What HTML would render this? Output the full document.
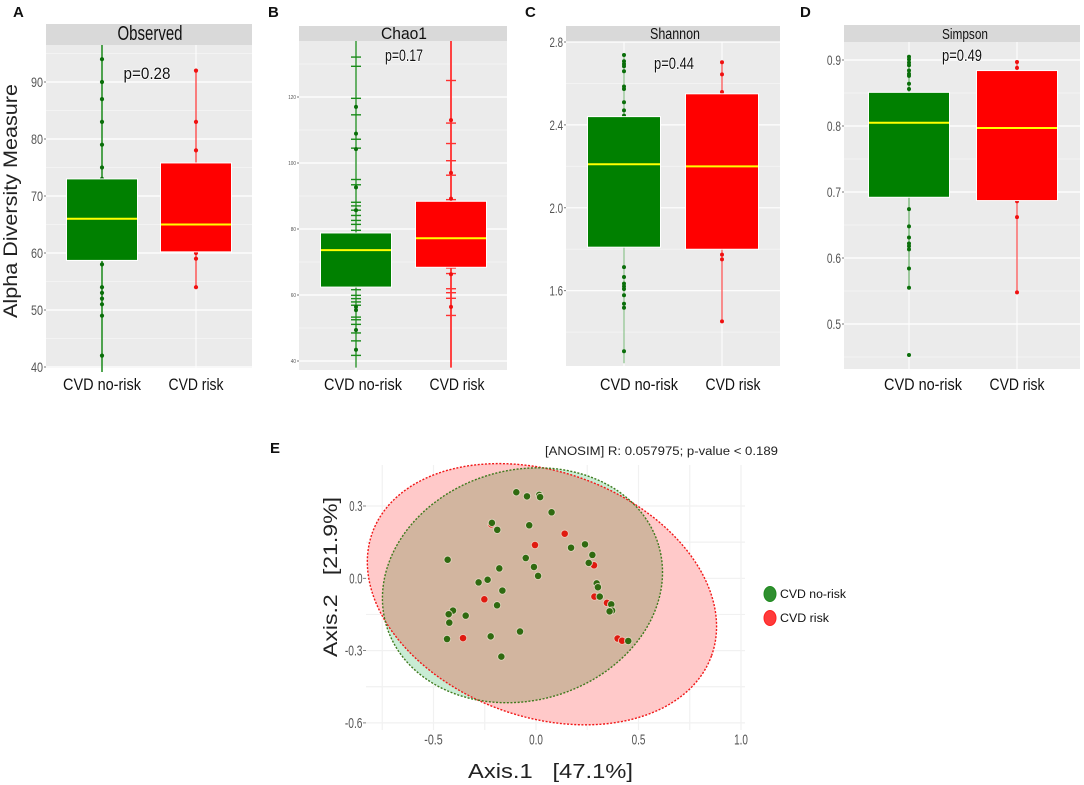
<!DOCTYPE html>
<html lang="en">
<head>
<meta charset="utf-8">
<title>Alpha and beta diversity</title>
<style>
html,body{margin:0;padding:0;background:#fff;width:1084px;height:785px;overflow:hidden}
svg{display:block;font-family:"Liberation Sans",sans-serif;filter:blur(0.35px)}
</style>
</head>
<body>
<svg id="figure" width="1084" height="785" viewBox="0 0 1084 785" xmlns="http://www.w3.org/2000/svg">
  <rect width="1084" height="785" fill="#fff"/>
  <g font-weight="bold" font-size="15" fill="#111">
    <text x="13" y="17">A</text>
    <text x="268" y="17">B</text>
    <text x="525" y="17">C</text>
    <text x="800" y="17">D</text>
    <text x="270" y="453">E</text>
  </g>
  <text transform="translate(17,201) rotate(-90)" text-anchor="middle" font-size="19" fill="#222" textLength="234" lengthAdjust="spacingAndGlyphs">Alpha Diversity Measure</text>
  <g id="panels"></g>
  <g id="ordination"></g>
  <text x="545" y="455" font-size="11.5" fill="#222" textLength="233" lengthAdjust="spacingAndGlyphs">[ANOSIM] R: 0.057975; p-value &lt; 0.189</text>
  <text x="468" y="778" font-size="20" fill="#222" textLength="165" lengthAdjust="spacingAndGlyphs" xml:space="preserve">Axis.1   [47.1%]</text>
  <text transform="translate(337,577) rotate(-90)" text-anchor="middle" font-size="19" fill="#222" textLength="160" lengthAdjust="spacingAndGlyphs" xml:space="preserve">Axis.2   [21.9%]</text>
  <g>
    <g>
      <ellipse cx="770" cy="594" rx="6" ry="7.5" fill="#2f8f2f" stroke="#1f8a1f" stroke-width="1"/>
      <text x="780" y="598" font-size="11.5" fill="#111" textLength="66" lengthAdjust="spacingAndGlyphs">CVD no-risk</text>
    </g>
    <g>
      <ellipse cx="770" cy="618" rx="6" ry="7.5" fill="#ff3b3b" stroke="#ff2020" stroke-width="1"/>
      <text x="780" y="622" font-size="11.5" fill="#111" textLength="49" lengthAdjust="spacingAndGlyphs">CVD risk</text>
    </g>
  </g>
</svg>
<script>
// ---- Panel A: Observed ----
const categories = ['CVD no-risk', 'CVD risk'];
const observedTicks = [40, 50, 60, 70, 80, 90];
const observedTickLabels = ['40', '50', '60', '70', '80', '90'];
const observedBoxNoRisk = [58.7, 66, 73];
const observedBoxRisk = [60.2, 65, 75.8];
const observedWhiskerNoRisk = [38, 100];
const observedWhiskerRisk = [54, 92];
const observedPointsNoRisk = [94, 90, 87, 83, 79, 75, 73, 58, 54, 53, 52, 51, 49, 42];
const observedPointsRisk = [92, 83, 78, 60, 59, 54];

// ---- Panel B: Chao1 ----
const chaoTicks = [40, 60, 80, 100, 120];
const chaoTickLabels = ['40', '60', '80', '100', '120'];
const chaoBoxNoRisk = [62.4, 73.6, 78.8];
const chaoBoxRisk = [68.4, 77.2, 88.4];
const chaoWhiskerNoRisk = [38, 140];
const chaoWhiskerRisk = [38, 140];
const chaoPointsNoRisk = [117, 108.9, 104.2, 92.6, 85.7, 56.4, 55.4, 49.4, 43.4];
const chaoPointsRisk = [113, 97, 89.2, 66.3, 56.4];
const chaoDashesNoRisk = [132.1, 129.3, 119.6, 114.6, 107.2, 104.5, 95, 93.4, 88.1, 87, 85.7, 84.1, 82.6, 81.4, 79.6, 61.6, 59.9, 58.9, 57.9, 56.9, 53.3, 52.5, 51.1, 48.5, 46.1, 41.7];
const chaoDashesRisk = [125, 112.1, 105.9, 100.7, 96.3, 88.9, 68.2, 66.5, 61.9, 60.7, 59, 53.8];

// ---- Panel C: Shannon ----
const shannonTicks = [1.6, 2.0, 2.4, 2.8];
const shannonTickLabels = ['1.6', '2.0', '2.4', '2.8'];
const shannonBoxNoRisk = [1.81, 2.21, 2.44];
const shannonBoxRisk = [1.80, 2.20, 2.55];
const shannonWhiskerNoRisk = [1.25, 2.74];
const shannonWhiskerRisk = [1.452, 2.702];
const shannonPointsNoRisk = [2.737, 2.707, 2.694, 2.683, 2.659, 2.585, 2.573, 2.509, 2.47, 2.445, 1.714, 1.666, 1.634, 1.621, 1.608, 1.578, 1.537, 1.518, 1.308];
const shannonPointsRisk = [2.702, 2.644, 2.559, 1.774, 1.751, 1.452];

// ---- Panel D: Simpson ----
const simpsonTicks = [0.5, 0.6, 0.7, 0.8, 0.9];
const simpsonTickLabels = ['0.5', '0.6', '0.7', '0.8', '0.9'];
const simpsonBoxNoRisk = [0.692, 0.805, 0.851];
const simpsonBoxRisk = [0.687, 0.797, 0.884];
const simpsonWhiskerNoRisk = [0.555, 0.905];
const simpsonWhiskerRisk = [0.548, 0.897];
const simpsonPointsNoRisk = [0.905, 0.901, 0.896, 0.892, 0.884, 0.879, 0.876, 0.864, 0.856, 0.674, 0.648, 0.631, 0.622, 0.618, 0.613, 0.584, 0.555, 0.453];
const simpsonPointsRisk = [0.897, 0.888, 0.686, 0.662, 0.548];

// ---- Panel E: ordination ----
const pcoaTicksX = [-0.5, 0, 0.5, 1];
const pcoaTickLabelsX = ['-0.5', '0.0', '0.5', '1.0'];
const pcoaTicksY = [-0.6, -0.3, 0, 0.3];
const pcoaTickLabelsY = ['-0.6', '-0.3', '0.0', '0.3'];
const noRiskAxis1 = [-0.096, -0.044, 0.016, 0.02, 0.076, -0.215, -0.189, -0.033, 0.239, 0.171, 0.275, 0.257, -0.431, -0.179, -0.05, -0.01, 0.01, -0.236, -0.28, -0.164, 0.296, 0.302, 0.311, 0.367, 0.371, 0.359, -0.19, -0.405, -0.426, -0.343, -0.423, -0.078, -0.434, -0.221, -0.169, 0.45];
const noRiskAxis2 = [0.357, 0.34, 0.346, 0.337, 0.274, 0.23, 0.201, 0.22, 0.141, 0.127, 0.097, 0.064, 0.077, 0.041, 0.084, 0.047, 0.01, -0.006, -0.017, -0.051, -0.021, -0.037, -0.076, -0.108, -0.134, -0.137, -0.112, -0.134, -0.149, -0.155, -0.184, -0.221, -0.252, -0.241, -0.325, -0.26];
const riskAxis1 = [-0.218, 0.14, -0.005, 0.283, -0.252, 0.285, 0.346, -0.356, 0.398, 0.42];
const riskAxis2 = [0.224, 0.185, 0.138, 0.054, -0.087, -0.076, -0.102, -0.248, -0.25, -0.259];
const noRiskEllipseCenter = [-0.066, -0.029];
const riskEllipseCenter = [0.029, -0.066];

const SVGNS = 'http://www.w3.org/2000/svg';
function make(tag, attrs, parent) {
  const el = document.createElementNS(SVGNS, tag);
  for (const k in attrs) el.setAttribute(k, attrs[k]);
  parent.appendChild(el);
  return el;
}
function linear(d0, d1, r0, r1) {
  return function (v) { return r0 + (v - d0) * (r1 - r0) / (d1 - d0); };
}

const COL = {
  noRisk: { box: '#008000', dot: '#0a6e0a', line: '#1a8a1a' },
  risk: { box: '#ff0000', dot: '#f01010', line: '#ff3030' }
};

function drawSeries(g, key, slug, xc, boxW, y, box, whisker, pts, dashes, opt) {
  const c = COL[key];
  const wh = make('line', { x1: xc, x2: xc, y1: Math.min(opt.bottom, y(whisker[0])), y2: Math.max(opt.top, y(whisker[1])), stroke: c.line, 'stroke-width': opt.lineW, 'stroke-opacity': opt.lineOp[key] }, g);
  
  
  dashes.forEach(function (v) {
    const d = make('line', { x1: xc - 5, x2: xc + 5, y1: y(v), y2: y(v), stroke: c.line, 'stroke-width': 1.4 }, g);
    
    
  });
  pts.forEach(function (v) {
    const p = make('circle', { cx: xc, cy: y(v), r: opt.r, fill: c.dot }, g);
    
    
  });
  const r = make('rect', { x: xc - boxW / 2, y: y(box[2]), width: boxW, height: y(box[0]) - y(box[2]), fill: c.box, stroke: '#fff', 'stroke-width': 1 }, g);
  
  
  const m = make('line', { x1: xc - boxW / 2 + 0.5, x2: xc + boxW / 2 - 0.5, y1: y(box[1]), y2: y(box[1]), stroke: '#ffff00', 'stroke-width': 2 }, g);
  
  
}

function drawPanel(o) {
  const root = document.getElementById('panels');
  const g = make('g', {}, root);
  
  
  const y = linear(o.domain[0], o.domain[1], o.range[0], o.range[1]);

  const strip = make('rect', { x: o.left, y: o.stripTop, width: o.right - o.left, height: o.top - o.stripTop, fill: '#d9d9d9' }, g);
  
  
  const bg = make('rect', { x: o.left, y: o.top, width: o.right - o.left, height: o.bottom - o.top, fill: '#ebebeb' }, g);
  
  

  const step = o.ticks[1] - o.ticks[0];
  o.ticks.concat([o.ticks[o.ticks.length - 1] + step]).forEach(function (t) {
    const my = y(t - step / 2);
    if (my > o.top && my < o.bottom) {
      const mn = make('line', { x1: o.left, x2: o.right, y1: my, y2: my, stroke: '#f3f3f3', 'stroke-width': 1 }, g);
      
      
    }
  });
  o.ticks.forEach(function (t, i) {
    const gl = make('line', { x1: o.left, x2: o.right, y1: y(t), y2: y(t), stroke: '#fff', 'stroke-width': 1.2 }, g);
    
    
    const tm = make('line', { x1: o.left - 2, x2: o.left, y1: y(t), y2: y(t), stroke: '#555', 'stroke-width': 0.8 }, g);
    
    
    const lab = make('text', { x: o.left - 3, y: y(t) + o.tickSize * 0.36, 'text-anchor': 'end', 'font-size': o.tickSize, fill: '#555', textLength: o.labels[i].length * o.tickCharW, lengthAdjust: 'spacingAndGlyphs' }, g);
    lab.textContent = o.labels[i];
    
    
  });
  [o.xNoRisk, o.xRisk].forEach(function (xc) {
    const vl = make('line', { x1: xc, x2: xc, y1: o.top, y2: o.bottom, stroke: '#fff', 'stroke-width': 1 }, g);
    
    
  });

  const opt = { top: o.top, bottom: o.bottom + 4, r: o.r, lineW: o.lineW, lineOp: o.lineOp };
  drawSeries(g, 'noRisk', o.slug + '-no-risk', o.xNoRisk, o.boxW, y, o.boxA, o.whA, o.ptsA, o.dashA || [], opt);
  drawSeries(g, 'risk', o.slug + '-risk', o.xRisk, o.boxW, y, o.boxB, o.whB, o.ptsB, o.dashB || [], opt);

  const t = make('text', { x: (o.titleX), y: o.titleY, 'text-anchor': 'middle', 'font-size': o.titleSize, fill: '#111', textLength: o.titleW, lengthAdjust: 'spacingAndGlyphs' }, g);
  t.textContent = o.title;
  
  

  const pv = make('text', { x: o.pX, y: o.pY, 'text-anchor': 'middle', 'font-size': o.pSize, fill: '#111', stroke: '#fff', 'stroke-width': 1.5, 'paint-order': 'stroke', textLength: o.pW, lengthAdjust: 'spacingAndGlyphs' }, g);
  pv.textContent = o.p;
  
  

  const l1 = make('text', { x: o.labelA, y: 390, 'text-anchor': 'middle', 'font-size': 17, fill: '#111', textLength: 78, lengthAdjust: 'spacingAndGlyphs' }, g);
  l1.textContent = categories[0];
  
  
  const l2 = make('text', { x: o.labelB, y: 390, 'text-anchor': 'middle', 'font-size': 17, fill: '#111', textLength: 55, lengthAdjust: 'spacingAndGlyphs' }, g);
  l2.textContent = categories[1];
  
  
}

drawPanel({ slug: 'observed', title: 'Observed', p: 'p=0.28', left: 46, right: 252, stripTop: 24, top: 45, bottom: 368,
  domain: [40, 90], range: [367, 82], ticks: observedTicks, labels: observedTickLabels, tickSize: 14, tickCharW: 6,
  xNoRisk: 102, xRisk: 196, boxW: 71, r: 2.1, lineW: 1.5, lineOp: { noRisk: 1, risk: 0.8 },
  boxA: observedBoxNoRisk, boxB: observedBoxRisk, whA: observedWhiskerNoRisk, whB: observedWhiskerRisk, ptsA: observedPointsNoRisk, ptsB: observedPointsRisk,
  titleX: 150, titleY: 40, titleSize: 20, titleW: 65, pX: 147, pY: 79, pSize: 17, pW: 47, labelA: 102, labelB: 196 });
drawPanel({ slug: 'chao1', title: 'Chao1', p: 'p=0.17', left: 299, right: 507, stripTop: 26, top: 41, bottom: 370,
  domain: [40, 120], range: [361, 97], ticks: chaoTicks, labels: chaoTickLabels, tickSize: 5, tickCharW: 2.6,
  xNoRisk: 356, xRisk: 451, boxW: 71, r: 2, lineW: 2, lineOp: { noRisk: 0.65, risk: 0.9 },
  boxA: chaoBoxNoRisk, boxB: chaoBoxRisk, whA: chaoWhiskerNoRisk, whB: chaoWhiskerRisk, ptsA: chaoPointsNoRisk, ptsB: chaoPointsRisk, dashA: chaoDashesNoRisk, dashB: chaoDashesRisk,
  titleX: 404, titleY: 39, titleSize: 17, titleW: 46, pX: 404, pY: 61, pSize: 17, pW: 38, labelA: 363, labelB: 457 });
drawPanel({ slug: 'shannon', title: 'Shannon', p: 'p=0.44', left: 566, right: 780, stripTop: 26, top: 42, bottom: 366,
  domain: [1.6, 2.8], range: [290.7, 42], ticks: shannonTicks, labels: shannonTickLabels, tickSize: 14, tickCharW: 4.5,
  xNoRisk: 624, xRisk: 722, boxW: 73, r: 2, lineW: 1.3, lineOp: { noRisk: 0.45, risk: 0.8 },
  boxA: shannonBoxNoRisk, boxB: shannonBoxRisk, whA: shannonWhiskerNoRisk, whB: shannonWhiskerRisk, ptsA: shannonPointsNoRisk, ptsB: shannonPointsRisk,
  titleX: 675, titleY: 39, titleSize: 15.5, titleW: 50, pX: 674, pY: 69, pSize: 17, pW: 40, labelA: 639, labelB: 733 });
drawPanel({ slug: 'simpson', title: 'Simpson', p: 'p=0.49', left: 844, right: 1080, stripTop: 25, top: 42, bottom: 369,
  domain: [0.5, 0.9], range: [324, 60], ticks: simpsonTicks, labels: simpsonTickLabels, tickSize: 14, tickCharW: 4.7,
  xNoRisk: 909, xRisk: 1017, boxW: 81, r: 2, lineW: 1.3, lineOp: { noRisk: 0.6, risk: 0.8 },
  boxA: simpsonBoxNoRisk, boxB: simpsonBoxRisk, whA: simpsonWhiskerNoRisk, whB: simpsonWhiskerRisk, ptsA: simpsonPointsNoRisk, ptsB: simpsonPointsRisk,
  titleX: 965, titleY: 39, titleSize: 15, titleW: 46, pX: 962, pY: 61, pSize: 17, pW: 40, labelA: 923, labelB: 1017 });

(function () {
  const g = document.getElementById('ordination');
  
  
  const px = linear(0, 0.5, 536, 638.5);
  const py = linear(0, 0.3, 578.3, 506);
  const L = 366, R = 745, T = 465, B = 730;

  const defs = make('defs', {}, g);
  const clip = make('clipPath', { id: 'redClip' }, defs);
  const redCx = px(riskEllipseCenter[0]), redCy = py(riskEllipseCenter[1]);
  const grnCx = px(noRiskEllipseCenter[0]), grnCy = py(noRiskEllipseCenter[1]);
  const redT = 'rotate(20 ' + redCx + ' ' + redCy + ')';
  const grnT = 'rotate(-16 ' + grnCx + ' ' + grnCy + ')';
  make('ellipse', { cx: redCx, cy: redCy, rx: 180.4, ry: 122.5, transform: redT }, clip);

  pcoaTicksX.concat([-0.75, -0.25, 0.25, 0.75]).forEach(function (t) {
    const v = make('line', { x1: px(t), x2: px(t), y1: T, y2: B, stroke: '#f1f1f1', 'stroke-width': 1.2 }, g);
    
    
  });
  pcoaTicksY.concat([-0.45, -0.15, 0.15]).forEach(function (t) {
    const h = make('line', { x1: L, x2: R, y1: py(t), y2: py(t), stroke: '#f1f1f1', 'stroke-width': 1.2 }, g);
    
    
  });

  const ge = make('ellipse', { cx: grnCx, cy: grnCy, rx: 141.9, ry: 115.2, transform: grnT, fill: '#c9ecd4' }, g);
  
  
  const re = make('ellipse', { cx: redCx, cy: redCy, rx: 180.4, ry: 122.5, transform: redT, fill: '#ffc9c9' }, g);
  
  
  const cg = make('g', { 'clip-path': 'url(#redClip)' }, g);
  
  
  const ov = make('ellipse', { cx: grnCx, cy: grnCy, rx: 141.9, ry: 115.2, transform: grnT, fill: '#d2b59f' }, cg);
  
  
  const ro = make('ellipse', { cx: redCx, cy: redCy, rx: 180.4, ry: 122.5, transform: redT, fill: 'none', stroke: '#f01818', 'stroke-width': 1.4, 'stroke-dasharray': '2 1.6' }, g);
  
  
  const go = make('ellipse', { cx: grnCx, cy: grnCy, rx: 141.9, ry: 115.2, transform: grnT, fill: 'none', stroke: '#3f7a1e', 'stroke-width': 1.4, 'stroke-dasharray': '2 1.6' }, g);
  
  

  riskAxis1.forEach(function (v, i) {
    const c = make('circle', { cx: px(v), cy: py(riskAxis2[i]), r: 3.7, fill: '#e01a10', stroke: '#e9c8b8', 'stroke-width': 0.9 }, g);
    
    
  });
  noRiskAxis1.forEach(function (v, i) {
    const c = make('circle', { cx: px(v), cy: py(noRiskAxis2[i]), r: 3.7, fill: '#2f6a10', stroke: '#e0d2bc', 'stroke-width': 0.9 }, g);
    
    
  });

  pcoaTicksX.forEach(function (t, i) {
    const lab = make('text', { x: px(t), y: 744.5, 'text-anchor': 'middle', 'font-size': 15, fill: '#555', textLength: pcoaTickLabelsX[i].length * 4.6, lengthAdjust: 'spacingAndGlyphs' }, g);
    lab.textContent = pcoaTickLabelsX[i];
    
    
  });
  pcoaTicksY.forEach(function (t, i) {
    const lab = make('text', { x: 362.5, y: py(t) + 5, 'text-anchor': 'end', 'font-size': 15, fill: '#555', textLength: pcoaTickLabelsY[i].length * 4.4, lengthAdjust: 'spacingAndGlyphs' }, g);
    lab.textContent = pcoaTickLabelsY[i];
    
    
    const tm = make('line', { x1: 363, x2: 366, y1: py(t), y2: py(t), stroke: '#666', 'stroke-width': 0.8 }, g);
    
    
  });
})();
</script>
</body>
</html>
